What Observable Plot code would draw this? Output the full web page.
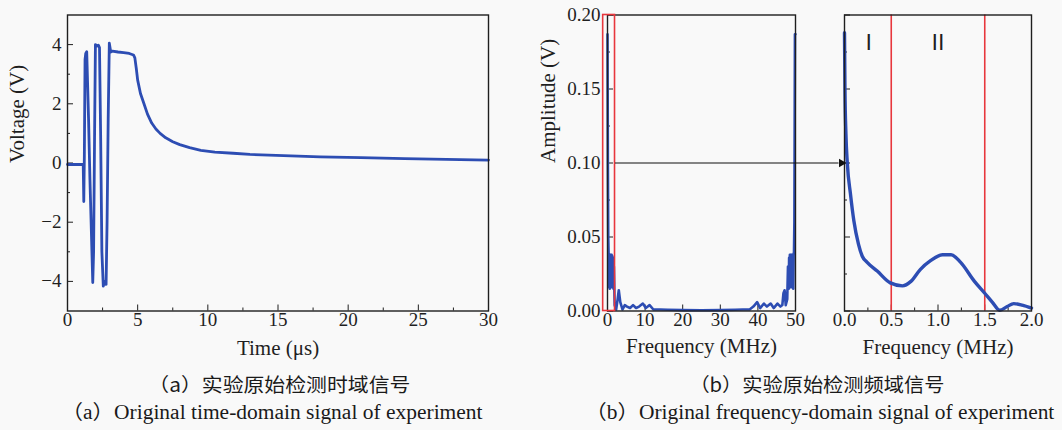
<!DOCTYPE html>
<html><head><meta charset="utf-8">
<script src="https://cdn.jsdelivr.net/npm/d3@7"></script>
<script src="https://cdn.jsdelivr.net/npm/@observablehq/plot@0.6"></script>
<style>
body{margin:0;background:#f9f9f9;width:1062px;height:430px;position:relative;overflow:hidden;font-family:"Liberation Serif",serif;color:#1a1a1a}
.panel{position:absolute;top:0}
.panel svg text{font-family:"Liberation Serif","Noto Sans CJK SC",serif}
.cap{position:absolute;white-space:nowrap;line-height:1;transform-origin:center center}
.zh{font-family:"Noto Sans CJK SC",sans-serif;font-size:19px}
.en{font-family:"Liberation Serif","Noto Sans CJK SC",serif;font-size:20px}
</style></head><body>
<div id="pa" class="panel" style="left:0px"></div>
<div id="pb1" class="panel" style="left:530px"></div>
<div id="pb2" class="panel" style="left:820px"></div>
<div class="cap zh" data-cx="279" data-cy="383" data-w="262">（a）实验原始检测时域信号</div>
<div class="cap en" data-cx="272" data-cy="412" data-w="421">（a）Original time-domain signal of experiment</div>
<div class="cap zh" data-cx="817" data-cy="383" data-w="255">（b）实验原始检测频域信号</div>
<div class="cap en" data-cx="820" data-cy="412" data-w="469">（b）Original frequency-domain signal of experiment</div>
<script>
// ---------- data: panel (a) time-domain signal ----------
const timeUs = [0, 1.12, 1.16, 1.2, 1.25, 1.3, 1.37, 1.5, 1.6, 1.7, 1.8, 1.86, 1.93, 1.99, 2.1, 2.2, 2.28, 2.36, 2.45, 2.55, 2.65, 2.75, 2.82, 2.9, 2.98, 3.08, 3.2, 3.6, 4.0, 4.4, 4.7, 4.8, 4.9, 5.0, 5.2, 5.45, 5.7, 6.0, 6.3, 6.6, 7.0, 7.5, 8.0, 8.7, 9.5, 10.5, 11.8, 13.0, 15.4, 18.0, 20.9, 24.0, 27.0, 30.0];
const voltage = [-0.05, -0.05, -1.3, 0.2, 3.5, 3.7, 3.76, 1.5, -0.57, -2.3, -4.04, -3.0, 1.0, 4.0, 3.95, 3.98, 3.9, 1.0, -3.0, -4.16, -4.0, -4.1, -2.0, 1.5, 4.05, 3.75, 3.78, 3.75, 3.73, 3.7, 3.65, 3.55, 3.2, 2.8, 2.35, 2.0, 1.65, 1.35, 1.15, 1.0, 0.85, 0.72, 0.62, 0.52, 0.43, 0.37, 0.33, 0.29, 0.25, 0.21, 0.18, 0.15, 0.12, 0.1];
const timeTicks = [0, 5, 10, 15, 20, 25, 30];
const timeMinorTicks = [2.5, 7.5, 12.5, 17.5, 22.5, 27.5];
const voltTicks = [-4, -2, 0, 2, 4];
const voltMinorTicks = [-3, -1, 1, 3];

// ---------- data: panel (b) full spectrum 0–50 MHz ----------
const freqFull = [0, 0.1, 0.2, 0.3, 0.4, 0.5, 0.6, 0.7, 0.8, 0.9, 1.0, 1.1, 1.2, 1.3, 1.4, 1.5, 1.6, 1.7, 1.9, 2.3, 2.7, 3.0, 3.4, 4.0, 4.6, 5.2, 6.0, 6.8, 7.6, 8.4, 9.4, 10.2, 11.2, 12.2, 14, 16, 20, 25, 30, 34, 36, 37.8, 38.8, 39.8, 40.6, 41.6, 42.4, 43.4, 44.2, 45.2, 46.0, 46.5, 46.8, 47.1, 47.4, 47.8, 48.0, 48.2, 48.3, 48.4, 48.5, 48.6, 48.7, 48.8, 48.9, 49.0, 49.1, 49.2, 49.3, 49.4, 49.5, 49.6, 49.7, 49.85, 50];
const ampFull = [0.187, 0.10, 0.05, 0.038, 0.016, 0.037, 0.015, 0.038, 0.017, 0.038, 0.016, 0.038, 0.017, 0.037, 0.016, 0.036, 0.015, 0.03, 0.004, 0.001, 0.008, 0.014, 0.006, 0.001, 0.004, 0.003, 0.002, 0.004, 0.002, 0.003, 0.005, 0.002, 0.004, 0.001, 0.001, 0.0008, 0.0006, 0.0005, 0.0006, 0.0008, 0.001, 0.001, 0.003, 0.006, 0.002, 0.005, 0.003, 0.005, 0.002, 0.005, 0.003, 0.004, 0.012, 0.014, 0.004, 0.008, 0.03, 0.015, 0.036, 0.016, 0.038, 0.017, 0.038, 0.016, 0.038, 0.017, 0.038, 0.016, 0.037, 0.015, 0.038, 0.04, 0.06, 0.187, 0.187];
const freqFullTicks = [0, 10, 20, 30, 40, 50];
const ampTicks = [0, 0.05, 0.10, 0.15, 0.20];
const ampMinorTicks = [0.025, 0.075, 0.125, 0.175];

// ---------- data: panel (b) zoom 0–2 MHz ----------
const freqZoom = [0, 0.005, 0.015, 0.03, 0.064, 0.1, 0.15, 0.19, 0.24, 0.35, 0.49, 0.62, 0.71, 0.81, 0.92, 1.05, 1.14, 1.24, 1.39, 1.5, 1.58, 1.66, 1.74, 1.81, 1.9, 2.0];
const ampZoom = [0.188, 0.15, 0.12, 0.10, 0.079, 0.061, 0.045, 0.037, 0.033, 0.027, 0.019, 0.017, 0.020, 0.028, 0.034, 0.038, 0.038, 0.033, 0.020, 0.012, 0.006, 0.0005, 0.003, 0.005, 0.004, 0.002];
const freqZoomTicks = [0, 0.5, 1.0, 1.5, 2.0];
const freqZoomMinorTicks = [0.25, 0.75, 1.25, 1.75];
const bandEdges = [0.5, 1.5];
const bandLabels = ["Ⅰ", "Ⅱ"];
const bandLabelX = [0.26, 1.0];
const selectedBand = [0, 2];    // MHz, red box in full spectrum
const arrowAmp = 0.10;

// ---------- styling ----------
const BLUE = "#2d4db3", RED = "#e8373d", INK = "#1f1f1f";
const SERIF = "Liberation Serif, Noto Sans CJK SC, serif";
const H = 365, MT = 14.5, MB = 54.5;
const TICK = 19, TITLE = 21;
const baseStyle = {background: "transparent", fontFamily: SERIF, fontSize: TICK + "px", color: INK, overflow: "visible"};
const ax = {label: null, fontSize: TICK, fontFamily: SERIF, stroke: INK, fill: INK};

const tA = timeUs.map((t, i) => ({t, v: voltage[i]}));
const fFull = freqFull.map((f, i) => ({f, a: ampFull[i]}));
const fZoom = freqZoom.map((f, i) => ({f, a: ampZoom[i]}));

// Panel (a)
const pa = Plot.plot({
  width: 500, height: H, marginLeft: 67, marginRight: 12, marginTop: MT, marginBottom: MB,
  style: baseStyle,
  x: {domain: [0, 30]}, y: {domain: [-5, 5]},
  marks: [
    Plot.axisX({...ax, ticks: timeTicks, tickSize: -6, tickPadding: 7}),
    Plot.axisX({...ax, ticks: timeMinorTicks, tickSize: -3, tickFormat: () => ""}),
    Plot.axisY({...ax, ticks: voltTicks, tickSize: -6, tickPadding: 12}),
    Plot.axisY({...ax, ticks: voltMinorTicks, tickSize: -3, tickFormat: () => ""}),
    Plot.line(tA, {x: "t", y: "v", stroke: BLUE, strokeWidth: 2.8, curve: "linear"}),
    Plot.frame({stroke: INK, strokeWidth: 1.4}),
    Plot.text(["Time (μs)"], {frameAnchor: "bottom", dy: 44, fontSize: TITLE, fontFamily: SERIF, fill: INK}),
    Plot.text(["Voltage (V)"], {frameAnchor: "left", dx: -50, rotate: -90, fontSize: TITLE, fontFamily: SERIF, fill: INK})
  ]
});
document.getElementById("pa").append(pa);

// Panel (b) full spectrum, with arrow drawn out toward the zoom panel
const b1Left = 530, b1MarginLeft = 77, b1FrameW = 188, b1W = 532;
const b2Left = 820, b2MarginLeft = 24;
const fullDomain = [0, 50];
const arrowEndPx = (b2Left + b2MarginLeft - 6) - (b1Left + b1MarginLeft);
const arrowEndF = fullDomain[0] + arrowEndPx / b1FrameW * (fullDomain[1] - fullDomain[0]);
const pb1 = Plot.plot({
  width: b1W, height: H, marginLeft: b1MarginLeft, marginRight: b1W - b1MarginLeft - b1FrameW, marginTop: MT, marginBottom: MB,
  style: baseStyle,
  x: {domain: fullDomain}, y: {domain: [0, 0.2]},
  marks: [
    Plot.axisX({...ax, ticks: freqFullTicks, tickSize: -6, tickPadding: 7}),
    Plot.axisY({...ax, ticks: ampTicks, tickSize: -6, tickPadding: 13, tickFormat: d3.format(".2f")}),
    Plot.axisY({...ax, ticks: ampMinorTicks, tickSize: -3, tickFormat: () => ""}),
    Plot.line(fFull, {x: "f", y: "a", stroke: BLUE, strokeWidth: 2.6}),
    Plot.frame({stroke: INK, strokeWidth: 1.4}),
    Plot.rect([{x1: -1.15, x2: selectedBand[1], y1: 0, y2: 0.2}], {x1: "x1", x2: "x2", y1: "y1", y2: "y2", stroke: RED, fill: "none", strokeWidth: 1.6, clip: false}),
    Plot.link([{x1: selectedBand[1], x2: arrowEndF, y: arrowAmp}], {x1: "x1", x2: "x2", y1: "y", y2: "y", stroke: "#111", strokeWidth: 1.2, clip: false}),
    Plot.text(["Frequency (MHz)"], {frameAnchor: "bottom", dy: 42, fontSize: TITLE, fontFamily: SERIF, fill: INK}),
    Plot.text(["Amplitude (V)"], {frameAnchor: "left", dx: -59, rotate: -90, fontSize: TITLE, fontFamily: SERIF, fill: INK})
  ]
});
document.getElementById("pb1").append(pb1);

// Panel (b) zoom 0–2 MHz
const pb2 = Plot.plot({
  width: 242, height: H, marginLeft: b2MarginLeft, marginRight: 31, marginTop: MT, marginBottom: MB,
  style: baseStyle,
  x: {domain: [0, 2]}, y: {domain: [0, 0.2]},
  marks: [
    Plot.axisX({...ax, ticks: freqZoomTicks, tickSize: -6, tickPadding: 7, tickFormat: d3.format(".1f")}),
    Plot.axisX({...ax, ticks: freqZoomMinorTicks, tickSize: -3, tickFormat: () => ""}),
    Plot.axisY({...ax, ticks: ampTicks, tickSize: -6, tickFormat: () => ""}),
    Plot.axisY({...ax, ticks: ampMinorTicks, tickSize: -3, tickFormat: () => ""}),
    Plot.ruleX(bandEdges, {stroke: RED, strokeWidth: 1.6}),
    Plot.line(fZoom, {x: "f", y: "a", stroke: BLUE, strokeWidth: 3.4, curve: "monotone-x"}),
    Plot.frame({stroke: INK, strokeWidth: 1.4}),
    Plot.dot([{f: 0, a: arrowAmp}], {x: "f", y: "a", symbol: "triangle", rotate: 90, r: 3.2, fill: "#111", stroke: "none", dx: -3}),
    Plot.text(bandLabels, {x: (d, i) => bandLabelX[i], y: 0.181, fontSize: 22, fontFamily: SERIF, fill: INK}),
    Plot.text(["Frequency (MHz)"], {frameAnchor: "bottom", dy: 43, fontSize: TITLE, fontFamily: SERIF, fill: INK})
  ]
});
document.getElementById("pb2").append(pb2);

// captions: centre and fit to the reference width
document.querySelectorAll(".cap").forEach(el => {
  const r = el.getBoundingClientRect();
  const cx = +el.dataset.cx, cy = +el.dataset.cy, tw = +el.dataset.w;
  el.style.left = (cx - r.width / 2) + "px";
  el.style.top = (cy - r.height / 2) + "px";
  el.style.transform = `scaleX(${tw / r.width})`;
});
</script>
</body></html>
